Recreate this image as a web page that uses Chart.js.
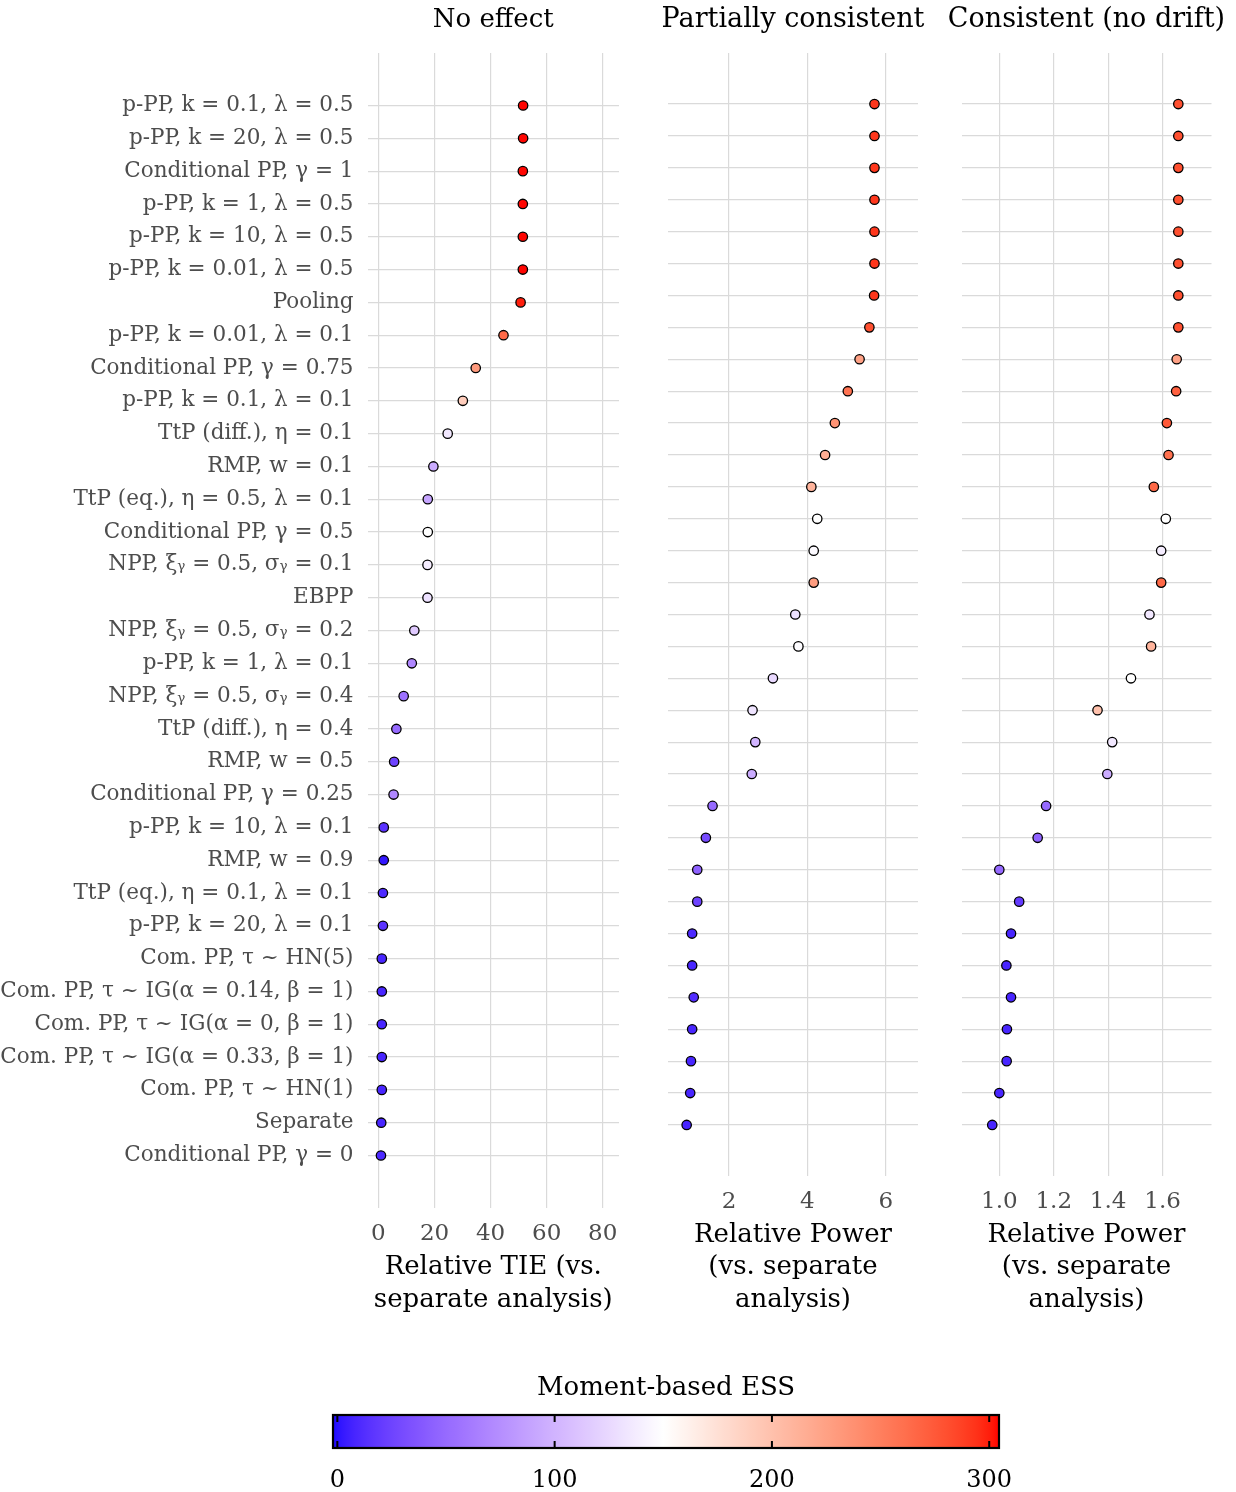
<!DOCTYPE html>
<html>
<head>
<meta charset="utf-8">
<script src="https://cdn.jsdelivr.net/npm/chart.js@4.4.0/dist/chart.umd.min.js"></script>
<style>
  body { margin: 0; background: #fff; }
  #wrap { position: relative; width: 1236px; height: 1492px; }
  canvas { position: absolute; }
</style>
</head>
<body>
<div id="wrap">
  <canvas id="noEffect" width="630" height="1320" style="left:0px;top:0px"></canvas>
  <canvas id="partial" width="300" height="1320" style="left:640px;top:0px"></canvas>
  <canvas id="consistent" width="296" height="1320" style="left:940px;top:0px"></canvas>
  <canvas id="essBar" width="700" height="132" style="left:316px;top:1360px"></canvas>
</div>
<script>
// rows, top to bottom
const methods = [
  'p-PP, k = 0.1, λ = 0.5',
  'p-PP, k = 20, λ = 0.5',
  'Conditional PP, γ = 1',
  'p-PP, k = 1, λ = 0.5',
  'p-PP, k = 10, λ = 0.5',
  'p-PP, k = 0.01, λ = 0.5',
  'Pooling',
  'p-PP, k = 0.01, λ = 0.1',
  'Conditional PP, γ = 0.75',
  'p-PP, k = 0.1, λ = 0.1',
  'TtP (diff.), η = 0.1',
  'RMP, w = 0.1',
  'TtP (eq.), η = 0.5, λ = 0.1',
  'Conditional PP, γ = 0.5',
  'NPP, ξᵧ = 0.5, σᵧ = 0.1',
  'EBPP',
  'NPP, ξᵧ = 0.5, σᵧ = 0.2',
  'p-PP, k = 1, λ = 0.1',
  'NPP, ξᵧ = 0.5, σᵧ = 0.4',
  'TtP (diff.), η = 0.4',
  'RMP, w = 0.5',
  'Conditional PP, γ = 0.25',
  'p-PP, k = 10, λ = 0.1',
  'RMP, w = 0.9',
  'TtP (eq.), η = 0.1, λ = 0.1',
  'p-PP, k = 20, λ = 0.1',
  'Com. PP, τ ~ HN(5)',
  'Com. PP, τ ~ IG(α = 0.14, β = 1)',
  'Com. PP, τ ~ IG(α = 0, β = 1)',
  'Com. PP, τ ~ IG(α = 0.33, β = 1)',
  'Com. PP, τ ~ HN(1)',
  'Separate',
  'Conditional PP, γ = 0'
];

const tieNoEffect = [51.6, 51.6, 51.5, 51.5, 51.5, 51.5, 50.7, 44.6, 34.7, 30.1, 24.7, 19.6, 17.6, 17.6, 17.5, 17.5, 12.8, 11.9, 9.0, 6.4, 5.6, 5.4, 1.9, 1.9, 1.6, 1.6, 1.2, 1.2, 1.2, 1.2, 1.2, 1.0, 0.9];
const essNoEffect = [304, 304, 304, 304, 304, 304, 300, 265, 230, 190, 135, 95, 90, 150, 138, 130, 115, 70, 55, 50, 25, 70, 15, 2, 10, 15, 8, 8, 8, 8, 8, 8, 10];

const powerPartial = [5.71, 5.71, 5.71, 5.71, 5.71, 5.71, 5.70, 5.58, 5.33, 5.03, 4.70, 4.45, 4.10, 4.25, 4.16, 4.16, 3.69, 3.77, 3.12, 2.60, 2.67, 2.58, 1.58, 1.41, 1.19, 1.19, 1.06, 1.06, 1.10, 1.06, 1.03, 1.01, 0.92];
const essPartial = [292, 292, 292, 292, 292, 292, 292, 280, 225, 258, 235, 215, 210, 150, 147, 228, 130, 148, 125, 132, 100, 95, 50, 30, 45, 25, 10, 8, 12, 8, 8, 8, 8];

const powerConsistent = [1.658, 1.658, 1.658, 1.658, 1.658, 1.658, 1.658, 1.658, 1.652, 1.650, 1.616, 1.622, 1.568, 1.612, 1.595, 1.595, 1.552, 1.558, 1.484, 1.361, 1.415, 1.397, 1.172, 1.141, 1.000, 1.073, 1.043, 1.026, 1.043, 1.028, 1.027, 1.000, 0.974];
const essConsistent = [280, 280, 280, 280, 280, 280, 280, 280, 225, 270, 275, 260, 265, 150, 138, 265, 135, 210, 150, 200, 135, 95, 50, 45, 50, 20, 8, 8, 8, 8, 8, 8, 8];

const tieTicks = [0, 20, 40, 60, 80];
const partialTicks = [2, 4, 6];
const consistentTicks = [1.0, 1.2, 1.4, 1.6];
const essTicks = [0, 100, 200, 300];
const essLimits = [-2, 304.5];
const essMid = 150;

const serif = 'DejaVu Serif';
const gridColor = '#dadada';

// blue - white - red, interpolated in Lab like ggplot's gradient2
function toLin(c) { c /= 255; return c <= 0.04045 ? c / 12.92 : Math.pow((c + 0.055) / 1.055, 2.4); }
function fromLin(c) {
  const v = c <= 0.0031308 ? 12.92 * c : 1.055 * Math.pow(c, 1 / 2.4) - 0.055;
  return Math.round(Math.max(0, Math.min(1, v)) * 255);
}
function rgbToLab(rgb) {
  const R = toLin(rgb[0]), G = toLin(rgb[1]), B = toLin(rgb[2]);
  const X = (0.4124 * R + 0.3576 * G + 0.1805 * B) / 0.95047;
  const Y = 0.2126 * R + 0.7152 * G + 0.0722 * B;
  const Z = (0.0193 * R + 0.1192 * G + 0.9505 * B) / 1.08883;
  const f = t => t > 0.008856 ? Math.cbrt(t) : 7.787 * t + 16 / 116;
  return [116 * f(Y) - 16, 500 * (f(X) - f(Y)), 200 * (f(Y) - f(Z))];
}
function labToRgb(lab) {
  const fy = (lab[0] + 16) / 116, fx = fy + lab[1] / 500, fz = fy - lab[2] / 200;
  const g = t => t > 0.206893 ? t * t * t : (t - 16 / 116) / 7.787;
  const X = g(fx) * 0.95047, Y = g(fy), Z = g(fz) * 1.08883;
  const R = 3.2406 * X - 1.5372 * Y - 0.4986 * Z;
  const G = -0.9689 * X + 1.8758 * Y + 0.0415 * Z;
  const B = 0.0557 * X - 0.2040 * Y + 1.0570 * Z;
  return [fromLin(R), fromLin(G), fromLin(B)];
}
const labLow = rgbToLab([0, 0, 255]), labMid = rgbToLab([255, 255, 255]), labHigh = rgbToLab([255, 0, 0]);

function essColor(v) {
  const half = Math.max(essMid - essLimits[0], essLimits[1] - essMid);
  const t = 0.5 + (v - essMid) / (2 * half);
  let a, b, s;
  if (t < 0.5) { a = labLow; b = labMid; s = t / 0.5; }
  else { a = labMid; b = labHigh; s = (t - 0.5) / 0.5; }
  s = Math.max(0, Math.min(1, s));
  const rgb = labToRgb([0, 1, 2].map(k => a[k] + (b[k] - a[k]) * s));
  return 'rgb(' + rgb.join(',') + ')';
}

// title text centred over the plot area
const panelTitle = {
  id: 'panelTitle',
  afterDraw(chart, args, opts) {
    const { ctx, chartArea } = chart;
    ctx.save();
    ctx.font = opts.size + 'px "' + serif + '"';
    ctx.fillStyle = '#000';
    ctx.textAlign = 'center';
    ctx.textBaseline = 'middle';
    ctx.fillText(opts.text, (chartArea.left + chartArea.right) / 2, opts.y);
    ctx.restore();
  }
};

function makePanel(canvasId, cfg) {
  const ctx = document.getElementById(canvasId).getContext('2d');
  return new Chart(ctx, {
    type: 'scatter',
    data: {
      datasets: [{
        data: cfg.values.map((v, i) => ({ x: v, y: i })),
        backgroundColor: cfg.ess.map(essColor),
        borderColor: '#000',
        borderWidth: 1.3,
        pointRadius: 4.7
      }]
    },
    options: {
      responsive: false,
      animation: false,
      events: [],
      layout: { padding: { top: 53, right: cfg.padRight, left: 0, bottom: 0 } },
      plugins: {
        legend: { display: false },
        tooltip: { enabled: false },
        panelTitle: { text: cfg.title, y: 20, size: cfg.titleSize }
      },
      scales: {
        x: {
          type: 'linear',
          min: cfg.xMin,
          max: cfg.xMax,
          afterBuildTicks: s => { s.ticks = cfg.ticks.map(v => ({ value: v })); },
          afterFit: s => { s.height = cfg.xAxisHeight; s.paddingLeft = 0; s.paddingRight = 0; },
          ticks: {
            callback: cfg.tickFormat,
            color: '#4d4d4d',
            font: { family: serif, size: 23 },
            padding: 12,
            maxRotation: 0,
            autoSkip: false
          },
          grid: { color: gridColor, lineWidth: 1.2, drawTicks: false },
          border: { display: false },
          title: {
            display: true,
            text: cfg.axisTitle,
            color: '#000',
            font: { family: serif, size: 26, lineHeight: 1.25 },
            padding: { top: 0, bottom: 4 }
          }
        },
        y: {
          type: 'linear',
          reverse: true,
          min: -1.6,
          max: methods.length - 1 + 1.6,
          afterBuildTicks: s => { s.ticks = methods.map((m, i) => ({ value: i })); },
          afterFit: s => { s.width = cfg.yAxisWidth; },
          ticks: {
            display: cfg.showLabels,
            callback: v => methods[v],
            color: '#4d4d4d',
            font: { family: serif, size: 21.5 },
            padding: 14,
            autoSkip: false
          },
          grid: { color: gridColor, lineWidth: 1.2, drawTicks: false },
          border: { display: false }
        }
      }
    },
    plugins: [panelTitle]
  });
}

makePanel('noEffect', {
  title: 'No effect',
  titleSize: 26,
  values: tieNoEffect,
  ess: essNoEffect,
  ticks: tieTicks,
  tickFormat: v => String(v),
  xMin: -3.9, xMax: 85.8,
  axisTitle: ['Relative TIE (vs.', 'separate analysis)'],
  xAxisHeight: 112,
  yAxisWidth: 367.5,
  padRight: 11,
  showLabels: true
});

makePanel('partial', {
  title: 'Partially consistent',
  titleSize: 27,
  values: powerPartial,
  ess: essPartial,
  ticks: partialTicks,
  tickFormat: v => String(v),
  xMin: 0.444, xMax: 6.82,
  axisTitle: ['Relative Power', '(vs. separate', 'analysis)'],
  xAxisHeight: 144,
  yAxisWidth: 28,
  padRight: 22,
  showLabels: false
});

makePanel('consistent', {
  title: 'Consistent (no drift)',
  titleSize: 27,
  values: powerConsistent,
  ess: essConsistent,
  ticks: consistentTicks,
  tickFormat: v => v.toFixed(1),
  xMin: 0.861, xMax: 1.78,
  axisTitle: ['Relative Power', '(vs. separate', 'analysis)'],
  xAxisHeight: 144,
  yAxisWidth: 21.5,
  padRight: 24.5,
  showLabels: false
});

// colour bar for the ESS legend
const essGradient = {
  id: 'essGradient',
  beforeDatasetsDraw(chart) {
    const { ctx, chartArea: a, scales: { x } } = chart;
    const grad = ctx.createLinearGradient(a.left, 0, a.right, 0);
    for (let v = essLimits[0]; v <= essLimits[1]; v += 2) {
      const off = (x.getPixelForValue(v) - a.left) / (a.right - a.left);
      grad.addColorStop(Math.max(0, Math.min(1, off)), essColor(v));
    }
    grad.addColorStop(1, essColor(essLimits[1]));
    ctx.save();
    ctx.fillStyle = grad;
    ctx.fillRect(a.left, a.top, a.right - a.left, a.bottom - a.top);
    ctx.strokeStyle = '#000';
    ctx.lineWidth = 2;
    essTicks.forEach(v => {
      const px = x.getPixelForValue(v);
      ctx.beginPath();
      ctx.moveTo(px, a.top); ctx.lineTo(px, a.top + 7);
      ctx.moveTo(px, a.bottom - 7); ctx.lineTo(px, a.bottom);
      ctx.stroke();
    });
    ctx.lineWidth = 2.2;
    ctx.strokeRect(a.left, a.top, a.right - a.left, a.bottom - a.top);
    ctx.restore();
  }
};

new Chart(document.getElementById('essBar').getContext('2d'), {
  type: 'scatter',
  data: { datasets: [] },
  options: {
    responsive: false,
    animation: false,
    events: [],
    layout: { padding: { top: 55, left: 17, right: 17, bottom: 0 } },
    plugins: {
      legend: { display: false },
      tooltip: { enabled: false },
      panelTitle: { text: 'Moment-based ESS', y: 28, size: 26 }
    },
    scales: {
      x: {
        type: 'linear',
        min: essLimits[0],
        max: essLimits[1],
        afterBuildTicks: s => { s.ticks = essTicks.map(v => ({ value: v })); },
        afterFit: s => { s.height = 44; s.paddingLeft = 0; s.paddingRight = 0; },
        ticks: { color: '#000', font: { family: serif, size: 24 }, padding: 10, maxRotation: 0, autoSkip: false },
        grid: { display: false },
        border: { display: false }
      },
      y: { display: false, min: 0, max: 1 }
    }
  },
  plugins: [panelTitle, essGradient]
});
</script>
</body>
</html>
